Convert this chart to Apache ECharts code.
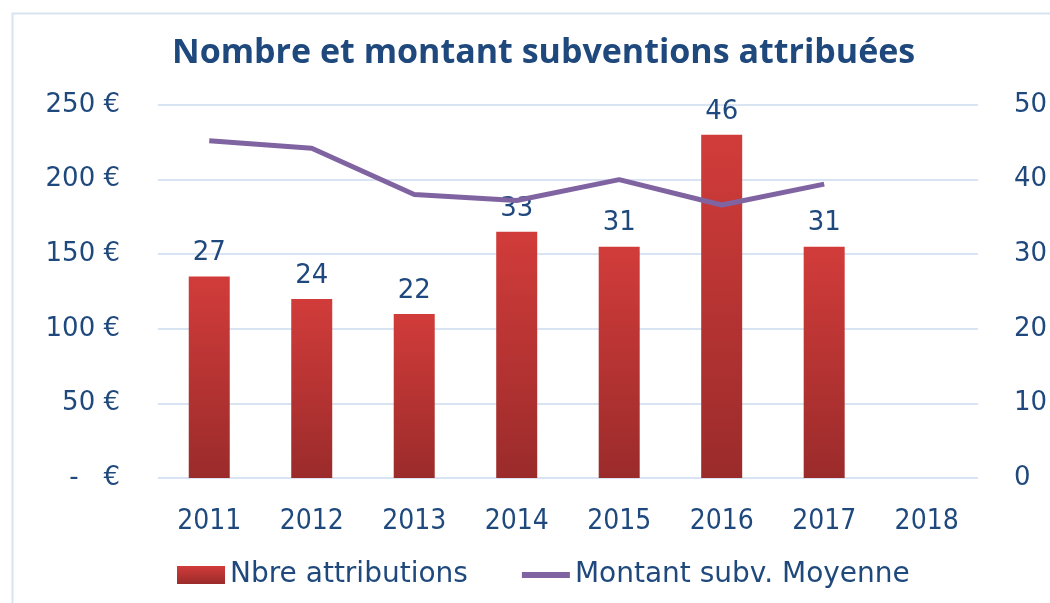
<!DOCTYPE html>
<html>
<head>
<meta charset="utf-8">
<script src="https://cdn.jsdelivr.net/npm/echarts@6/dist/echarts.min.js"></script>
<style>
  html, body { margin: 0; padding: 0; background: #fff; }
  #main { width: 1050px; height: 603px; }
</style>
</head>
<body>
<div id="main"></div>
<script>
// données du graphique
var annees = ['2011', '2012', '2013', '2014', '2015', '2016', '2017', '2018'];
var nbreAttributions = [27, 24, 22, 33, 31, 46, 31, null];
var montantMoyen = [226, 221, 190, 186, 200, 183, 197, null];

var bleu = '#1F497D';
var myChart = echarts.init(document.getElementById('main'));

var option = {
    backgroundColor: '#fff',
    title: {
        text: 'Nombre et montant subventions attribuées',
        left: 167,
        top: 31,
        textStyle: {
            color: bleu,
            fontSize: 34,
            fontWeight: 'bold',
            fontFamily: 'Open Sans'
        }
    },
    graphic: [{
        type: 'rect',
        shape: { x: 12.5, y: 13.5, width: 1100, height: 700 },
        style: { fill: 'none', stroke: '#D9E4F2', lineWidth: 2 },
        silent: true
    }],
    legend: {
        bottom: 9,
        left: 172,
        itemGap: 54,
        itemWidth: 48,
        itemHeight: 18,
        textStyle: { color: bleu, fontSize: 28, fontFamily: 'DejaVu Sans' },
        data: [
            { name: 'Nbre attributions', icon: 'rect' },
            { name: 'Montant subv. Moyenne', icon: 'path://M0,0h50v6h-50z' }
        ]
    },
    grid: { left: 158, right: 69, top: 105, bottom: 125 },
    xAxis: {
        type: 'category',
        data: annees,
        axisLine: { show: false },
        axisTick: { show: false },
        axisLabel: { color: bleu, fontSize: 28, fontFamily: 'DejaVu Sans Condensed', margin: 30 }
    },
    yAxis: [{
        type: 'value',
        min: 0,
        max: 250,
        interval: 50,
        position: 'left',
        axisLine: { show: false },
        axisTick: { show: false },
        splitLine: { lineStyle: { color: '#D9E4F2', width: 2 } },
        axisLabel: {
            color: bleu,
            fontSize: 26,
            fontFamily: 'DejaVu Sans',
            margin: 38,
            formatter: function (v) { return v === 0 ? '-   €' : v + ' €'; }
        }
    }, {
        type: 'value',
        min: 0,
        max: 50,
        interval: 10,
        position: 'right',
        axisLine: { show: false },
        axisTick: { show: false },
        splitLine: { show: false },
        axisLabel: { color: bleu, fontSize: 26, fontFamily: 'DejaVu Sans', margin: 36 }
    }],
    series: [{
        name: 'Nbre attributions',
        type: 'bar',
        yAxisIndex: 1,
        barWidth: '40%',
        data: nbreAttributions,
        itemStyle: {
            color: new echarts.graphic.LinearGradient(0, 0, 0, 1, [
                { offset: 0, color: '#D13C3A' },
                { offset: 1, color: '#9B2B2B' }
            ])
        },
        label: {
            show: true,
            position: 'top',
            distance: 10,
            color: bleu,
            fontSize: 26,
            fontFamily: 'DejaVu Sans'
        }
    }, {
        name: 'Montant subv. Moyenne',
        type: 'line',
        yAxisIndex: 0,
        data: montantMoyen,
        symbol: 'none',
        lineStyle: { color: '#8064A2', width: 5 },
        itemStyle: { color: '#8064A2' }
    }]
};

myChart.setOption(option);
</script>
</body>
</html>
